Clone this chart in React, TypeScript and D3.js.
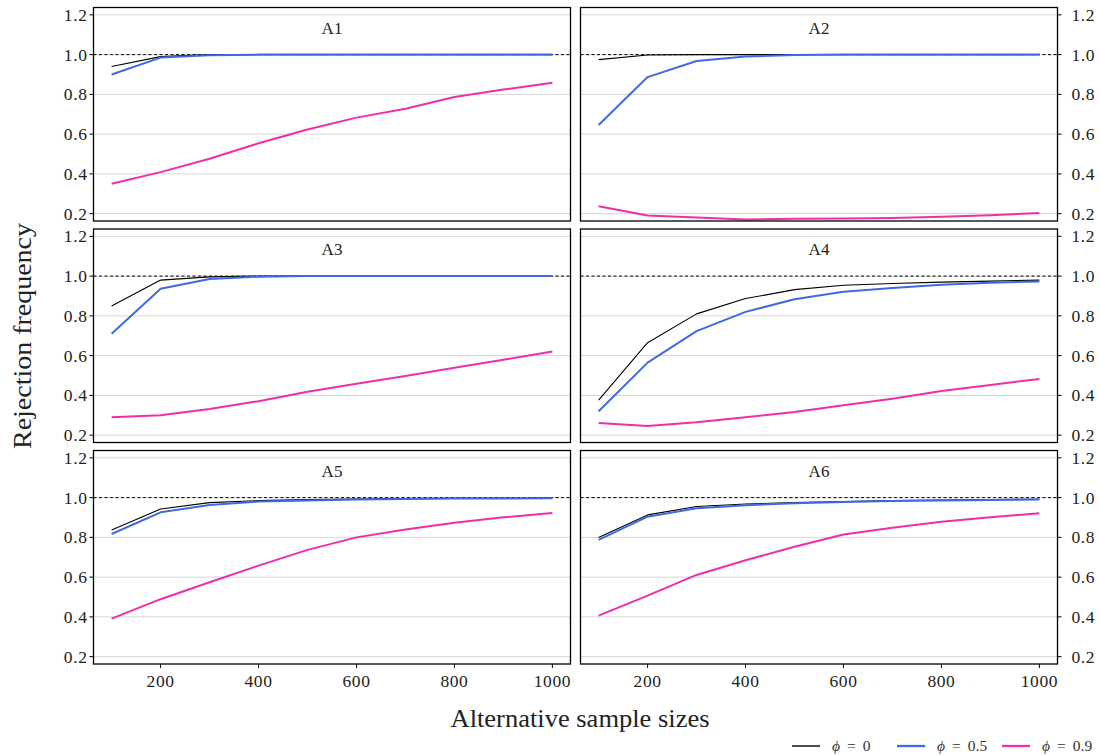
import React from "react";
import * as d3 from "d3";

const sampleSizes = [100, 200, 300, 400, 500, 600, 700, 800, 900, 1000];
const panelNames = ["A1", "A2", "A3", "A4", "A5", "A6"];
const phiLabels = ["0", "0.5", "0.9"];
const seriesColors = ["#000000", "#4169e1", "#f02fa6"];
const seriesWidths = [1.1, 2, 2];

const a1Phi0 = [0.94, 0.99, 1.0, 1.0, 1.0, 1.0, 1.0, 1.0, 1.0, 1.0];
const a1Phi05 = [0.9, 0.985, 0.997, 1.0, 1.0, 1.0, 1.0, 1.0, 1.0, 1.0];
const a1Phi09 = [0.35, 0.409, 0.476, 0.554, 0.623, 0.683, 0.728, 0.787, 0.824, 0.859];

const a2Phi0 = [0.975, 0.998, 1.0, 1.0, 1.0, 1.0, 1.0, 1.0, 1.0, 1.0];
const a2Phi05 = [0.646, 0.887, 0.968, 0.991, 0.998, 1.0, 1.0, 1.0, 1.0, 1.0];
const a2Phi09 = [0.237, 0.191, 0.181, 0.17, 0.174, 0.175, 0.178, 0.184, 0.192, 0.203];

const a3Phi0 = [0.85, 0.98, 0.996, 1.0, 1.0, 1.0, 1.0, 1.0, 1.0, 1.0];
const a3Phi05 = [0.71, 0.936, 0.986, 0.997, 1.0, 1.0, 1.0, 1.0, 1.0, 1.0];
const a3Phi09 = [0.29, 0.3, 0.331, 0.371, 0.418, 0.458, 0.498, 0.539, 0.579, 0.621];

const a4Phi0 = [0.376, 0.665, 0.81, 0.887, 0.932, 0.954, 0.963, 0.97, 0.975, 0.98];
const a4Phi05 = [0.32, 0.565, 0.723, 0.82, 0.884, 0.921, 0.94, 0.957, 0.967, 0.973];
const a4Phi09 = [0.261, 0.246, 0.265, 0.29, 0.317, 0.35, 0.383, 0.422, 0.452, 0.483];

const a5Phi0 = [0.837, 0.943, 0.975, 0.985, 0.99, 0.993, 0.995, 0.996, 0.997, 0.998];
const a5Phi05 = [0.817, 0.926, 0.963, 0.98, 0.986, 0.99, 0.993, 0.995, 0.996, 0.997];
const a5Phi09 = [0.391, 0.489, 0.574, 0.658, 0.737, 0.8, 0.84, 0.874, 0.901, 0.923];

const a6Phi0 = [0.799, 0.913, 0.955, 0.968, 0.975, 0.98, 0.985, 0.988, 0.99, 0.992];
const a6Phi05 = [0.787, 0.904, 0.946, 0.962, 0.972, 0.978, 0.983, 0.986, 0.988, 0.99];
const a6Phi09 = [0.406, 0.507, 0.611, 0.685, 0.753, 0.814, 0.848, 0.879, 0.901, 0.921];

const panelSeries = [
  [a1Phi0, a1Phi05, a1Phi09],
  [a2Phi0, a2Phi05, a2Phi09],
  [a3Phi0, a3Phi05, a3Phi09],
  [a4Phi0, a4Phi05, a4Phi09],
  [a5Phi0, a5Phi05, a5Phi09],
  [a6Phi0, a6Phi05, a6Phi09],
];

const yTicks = [0.2, 0.4, 0.6, 0.8, 1.0, 1.2];
const xTicks = [200, 400, 600, 800, 1000];

const FONT = "'Liberation Serif', 'DejaVu Serif', serif";

const colX = [93.5, 580.5];
const panelW = 477;
const rowY = [7.5, 229, 450.5];
const panelH = 213.5;

export default function App() {
  const x = d3.scaleLinear().domain([63, 1037]).range([0, panelW]);
  const y = d3.scaleLinear().domain([0.163, 1.237]).range([panelH, 0]);
  const line = d3
    .line<number>()
    .x((_, i) => x(sampleSizes[i]))
    .y((d) => y(d));

  return (
    <svg width={1100} height={756} style={{ display: "block", position: "absolute", left: 0, top: 0 }}>
      <rect width={1100} height={756} fill="#fff" />
      {panelNames.map((name, p) => {
        const col = p % 2;
        const row = Math.floor(p / 2);
        const tx = colX[col];
        const ty = rowY[row];
        const clipId = `clip-${p}`;
        return (
          <g key={name} transform={`translate(${tx},${ty})`}>
            <defs>
              <clipPath id={clipId}>
                <rect width={panelW} height={panelH} />
              </clipPath>
            </defs>
            {yTicks.map((t) => (
              <line key={t} x1={0} x2={panelW} y1={y(t)} y2={y(t)} stroke="#d6d6d6" strokeWidth={1} />
            ))}
            <line x1={0} x2={panelW} y1={y(1)} y2={y(1)} stroke="#000" strokeWidth={1} strokeDasharray="3,2.5" />
            <g clipPath={`url(#${clipId})`}>
              {panelSeries[p].map((vals, s) => (
                <path
                  key={s}
                  d={line(vals) || ""}
                  fill="none"
                  stroke={seriesColors[s]}
                  strokeWidth={seriesWidths[s]}
                  strokeLinejoin="round"
                />
              ))}
            </g>
            <rect width={panelW} height={panelH} fill="none" stroke="#000" strokeWidth={1.3} />
            <text x={panelW / 2} y={26} textAnchor="middle" fontFamily={FONT} fontSize={17} fill="#222">
              {name}
            </text>
            {yTicks.map((t) => (
              <g key={t} transform={`translate(${col === 0 ? 0 : panelW},${y(t)})`}>
                <line x1={0} x2={col === 0 ? -4 : 4} stroke="#000" strokeWidth={1} />
                <text
                  x={col === 0 ? -6 : 14}
                  dy="0.34em"
                  textAnchor={col === 0 ? "end" : "start"}
                  fontFamily={FONT}
                  fontSize={17.5}
                  letterSpacing={0.6}
                  fill="#222"
                >
                  {t.toFixed(1)}
                </text>
              </g>
            ))}
            {row === 2 &&
              xTicks.map((t) => (
                <g key={t} transform={`translate(${x(t)},${panelH})`}>
                  <line y1={0} y2={4} stroke="#000" strokeWidth={1} />
                  <text y={23} textAnchor="middle" fontFamily={FONT} fontSize={17.5} letterSpacing={0.6} fill="#222">
                    {t}
                  </text>
                </g>
              ))}
          </g>
        );
      })}
      <text
        transform="translate(31,336) rotate(-90)"
        textAnchor="middle"
        fontFamily={FONT}
        fontSize={25}
        textLength={226}
        lengthAdjust="spacingAndGlyphs"
        fill="#222"
      >
        Rejection frequency
      </text>
      <text
        x={580}
        y={727}
        textAnchor="middle"
        fontFamily={FONT}
        fontSize={25}
        textLength={259}
        lengthAdjust="spacingAndGlyphs"
        fill="#222"
      >
        Alternative sample sizes
      </text>
      <g fontFamily={FONT} fontSize={15.5} fill="#333">
        {phiLabels.map((lab, i) => {
          const lx = [792, 897, 1002][i];
          return (
            <g key={lab}>
              <line x1={lx} x2={lx + 28} y1={746} y2={746} stroke={seriesColors[i]} strokeWidth={seriesWidths[i] + 0.3} />
              <text x={lx + 40} y={751}>
                <tspan fontStyle="italic">ϕ</tspan>
                <tspan dx={7}>=</tspan>
                <tspan dx={7}>{lab}</tspan>
              </text>
            </g>
          );
        })}
      </g>
    </svg>
  );
}
